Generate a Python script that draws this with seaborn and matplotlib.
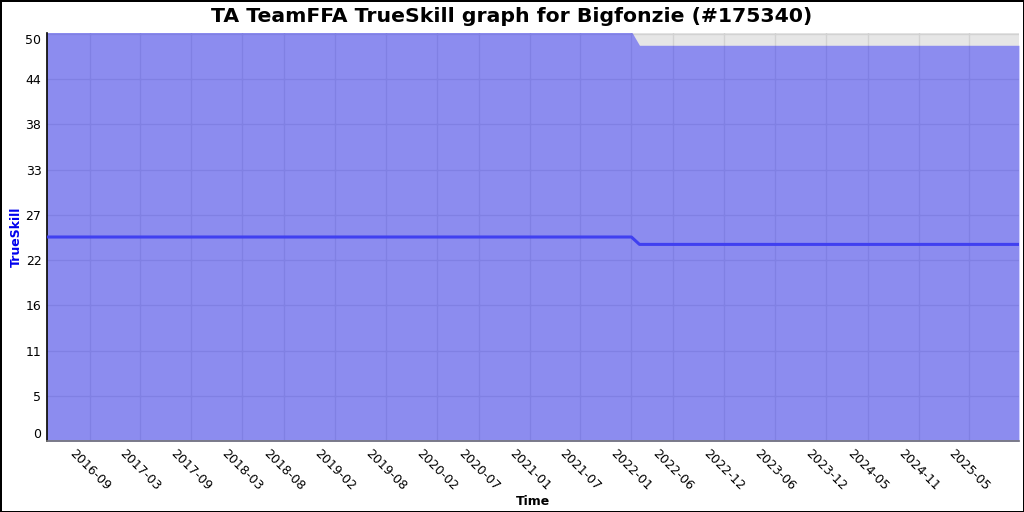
import numpy as np
import pandas as pd
import matplotlib
matplotlib.use("Agg")
import matplotlib.pyplot as plt
import matplotlib.dates as mdates
import seaborn as sns

# TrueSkill history (mu and sigma)
dates = pd.to_datetime(["2016-03-31", "2022-01-01", "2022-01-30", "2025-10-26"])
mu = [24.8, 24.8, 23.9, 23.9]
sigma = [8.33, 8.33, 8.07, 8.07]

# axis ticks as drawn in the reference
x_tick_labels = ["2016-09", "2017-03", "2017-09", "2018-03", "2018-08", "2019-02",
                 "2019-08", "2020-02", "2020-07", "2021-01", "2021-07", "2022-01",
                 "2022-06", "2022-12", "2023-06", "2023-12", "2024-05", "2024-11",
                 "2025-05"]
y_tick_values = [0, 5.5, 11, 16.5, 22, 27.5, 33, 38.5, 44, 49.5]
y_tick_labels = ["0", "5", "11", "16", "22", "27", "33", "38", "44", "50"]

df = pd.DataFrame({"date": dates, "mu": mu, "sigma": sigma})
df["lo"] = df["mu"] - 3 * df["sigma"]
df["hi"] = df["mu"] + 3 * df["sigma"]

sns.set_style("whitegrid", {"axes.facecolor": "#e6e6e6", "grid.color": "#d2d2d2"})
plt.rcParams["font.family"] = ["DejaVu Sans"]

fig = plt.figure(figsize=(10.24, 5.12), dpi=100)
fig.patch.set_edgecolor("black")
fig.patch.set_linewidth(1.0)
ax = fig.add_axes([0.0459, 0.1387, 0.9492, 0.7968])

ax.fill_between(df["date"], df["lo"], df["hi"], color="#0000ff", alpha=0.39,
                linewidth=0, zorder=2)
sns.lineplot(data=df, x="date", y="mu", ax=ax, color="#4040f0", linewidth=2.2,
             zorder=3)

ax.set_xlim(dates[0], dates[-1])
ax.set_ylim(0, 49.6)
ax.set_axisbelow(True)

ticks = pd.to_datetime(x_tick_labels, format="%Y-%m")
ax.set_xticks(mdates.date2num(ticks))
ax.set_xticklabels(x_tick_labels, rotation=-45, ha="center", fontsize=9)
ax.set_yticks(y_tick_values)
ax.set_yticklabels(y_tick_labels, fontsize=9)
ylabels = ax.get_yticklabels()
ylabels[0].set_va("bottom")
ylabels[-1].set_va("top")
ax.tick_params(axis="both", length=0, pad=4, colors="black")
ax.grid(True, linewidth=1)

for s in ["top", "right"]:
    ax.spines[s].set_visible(False)
ax.spines["left"].set_color("black")
ax.spines["bottom"].set_color("#777777")
ax.spines["left"].set_linewidth(1.2)
ax.spines["bottom"].set_linewidth(1.2)

ax.set_xlabel("Time", fontsize=9, fontweight="bold", labelpad=2, color="black")
ax.set_ylabel("TrueSkill", fontsize=9, fontweight="bold", color="#0000ee", labelpad=1.5)
fig.text(0.5, 0.967, "TA TeamFFA TrueSkill graph for Bigfonzie (#175340)",
         fontsize=14.7, fontweight="bold", ha="center", va="center", color="black")

fig.savefig("out.png", dpi=100)
